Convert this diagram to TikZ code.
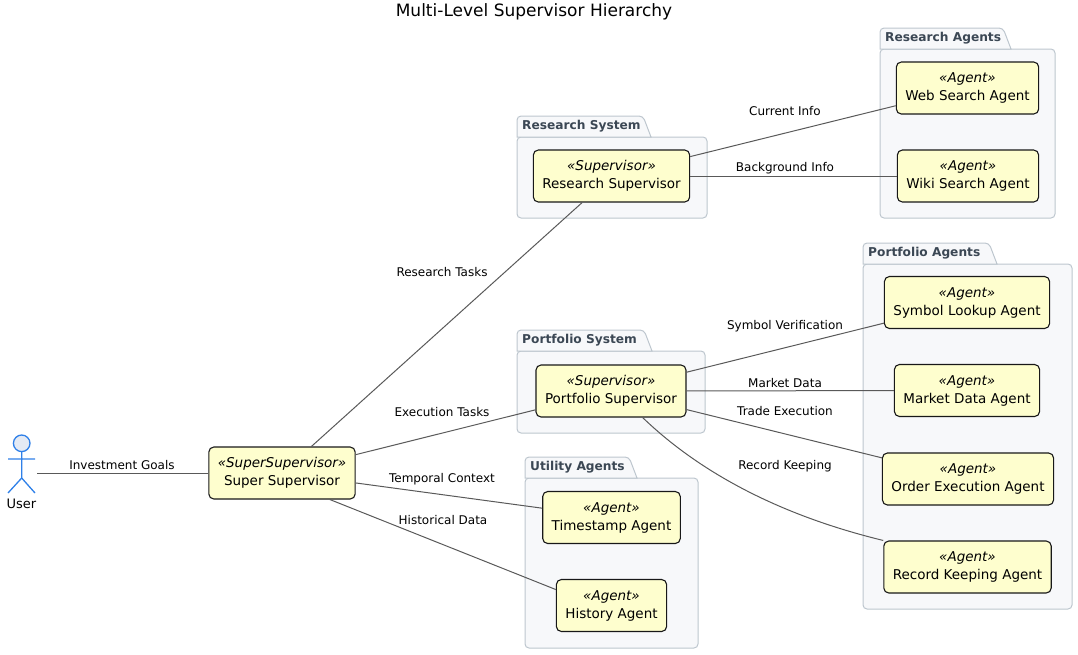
\documentclass[tikz,border=0pt]{standalone}
\usepackage{fontspec}
\setmainfont{DejaVu Sans}
\definecolor{boxfill}{HTML}{FEFECE}
\definecolor{boxline}{HTML}{181818}
\definecolor{linkgrey}{HTML}{595959}
\definecolor{pkgfill}{HTML}{F7F8FA}
\definecolor{pkgline}{HTML}{BDC6CE}
\definecolor{pkgtext}{HTML}{3B4754}
\definecolor{actorblue}{HTML}{2F80E8}
\definecolor{actorfill}{HTML}{E4EAF4}
\begin{document}
\begin{tikzpicture}[x=1pt,y=-1pt,
  agent/.style={draw=boxline,fill=boxfill,line width=1.1pt,rounded corners=5pt,
    minimum height=52pt,inner xsep=9pt,align=center,font=\fontsize{13.5}{18}\selectfont,
    execute at begin node=\rule{0pt}{15pt}},
  lbl/.style={font=\fontsize{12}{14}\selectfont},
  link/.style={draw=linkgrey,line width=1pt},
  pkg/.style={draw=pkgline,fill=pkgfill,line width=1pt},
  pkglbl/.style={text=pkgtext,font=\bfseries\fontsize{12.2}{14}\selectfont,anchor=west,inner sep=0pt}]
\useasboundingbox (0,0) rectangle (1078,654);
\node[font=\fontsize{17}{20}\selectfont] (title) at (534,12) {Multi-Level Supervisor Hierarchy};
% packages
\foreach \xa/\ya/\tr/\xb/\yb/\nm [count=\i] in {517/116/643/707/218/Research System,
    880/28/1003/1055/218/Research Agents,
    863/243/989/1072/609/Portfolio Agents,
    517/330/644/705/433/Portfolio System,
    525/457/629/698/648/Utility Agents}{
  \draw[pkg,rounded corners=4pt] (\xa,\ya+21) rectangle (\xb,\yb);
  \draw[pkg] (\xa,\ya+21) [rounded corners=4pt] -- (\xa,\ya) -- (\tr,\ya) [sharp corners] -- (\tr+8,\ya+21) -- cycle;
  \node[pkglbl] (pkg\i) at (\xa+5,\ya+10.5) {\nm};
}
% actor
\draw[actorblue,line width=1.3pt,fill=actorfill] (21.7,443.3) circle[radius=8.3pt];
\draw[actorblue,line width=1.3pt] (21.7,451.6) -- (21.7,478) (8,459) -- (35,459)
  (8,493) -- (21.7,478) -- (35,493);
\node[font=\fontsize{13}{15}\selectfont] (userlbl) at (21.5,503.5) {User};
\coordinate (user) at (37,473);
% supervisors and agents
\node[agent] (ss) at (282,473) {\textit{«SuperSupervisor»}\\Super Supervisor};
\node[agent] (rs) at (611.5,176) {\textit{«Supervisor»}\\Research Supervisor};
\node[agent] (ps) at (611,391) {\textit{«Supervisor»}\\Portfolio Supervisor};
\node[agent] (ws) at (967.5,88) {\textit{«Agent»}\\Web Search Agent};
\node[agent] (wk) at (968,176) {\textit{«Agent»}\\Wiki Search Agent};
\node[agent] (sl) at (967,302.5) {\textit{«Agent»}\\Symbol Lookup Agent};
\node[agent] (md) at (967,390.5) {\textit{«Agent»}\\Market Data Agent};
\node[agent] (oe) at (968,479) {\textit{«Agent»}\\Order Execution Agent};
\node[agent] (rk) at (967.5,567) {\textit{«Agent»}\\Record Keeping Agent};
\node[agent] (ts) at (611.5,517.5) {\textit{«Agent»}\\Timestamp Agent};
\node[agent] (ha) at (611.5,605.5) {\textit{«Agent»}\\History Agent};
% links
\draw[link] (user) -- (ss);
\draw[link] (ss) -- (rs);
\draw[link] (ss) -- (ps);
\draw[link] (ss) -- (ts);
\draw[link] (ss.-29) -- (ha.164);
\draw[link] (rs) -- (ws);
\draw[link] (rs) -- (wk);
\draw[link] (ps) -- (sl);
\draw[link] (ps) -- (md);
\draw[link] (ps) -- (oe);
\draw[link] (ps.-40) .. controls (722,494) and (824,526) .. (rk.north west);
% link labels
\node[lbl] (l1) at (122,465) {Investment Goals};
\node[lbl] (l2) at (442,272) {Research Tasks};
\node[lbl] (l3) at (442,412) {Execution Tasks};
\node[lbl] (l4) at (442,479) {Temporal Context};
\node[lbl] (l5) at (443,520) {Historical Data};
\node[lbl] (l6) at (785,111) {Current Info};
\node[lbl] (l7) at (785,168) {Background Info};
\node[lbl] (l8) at (785,326) {Symbol Verification};
\node[lbl] (l9) at (785,383) {Market Data};
\node[lbl] (l10) at (785,411) {Trade Execution};
\node[lbl] (l11) at (785,466) {Record Keeping};
\end{tikzpicture}
\end{document}
